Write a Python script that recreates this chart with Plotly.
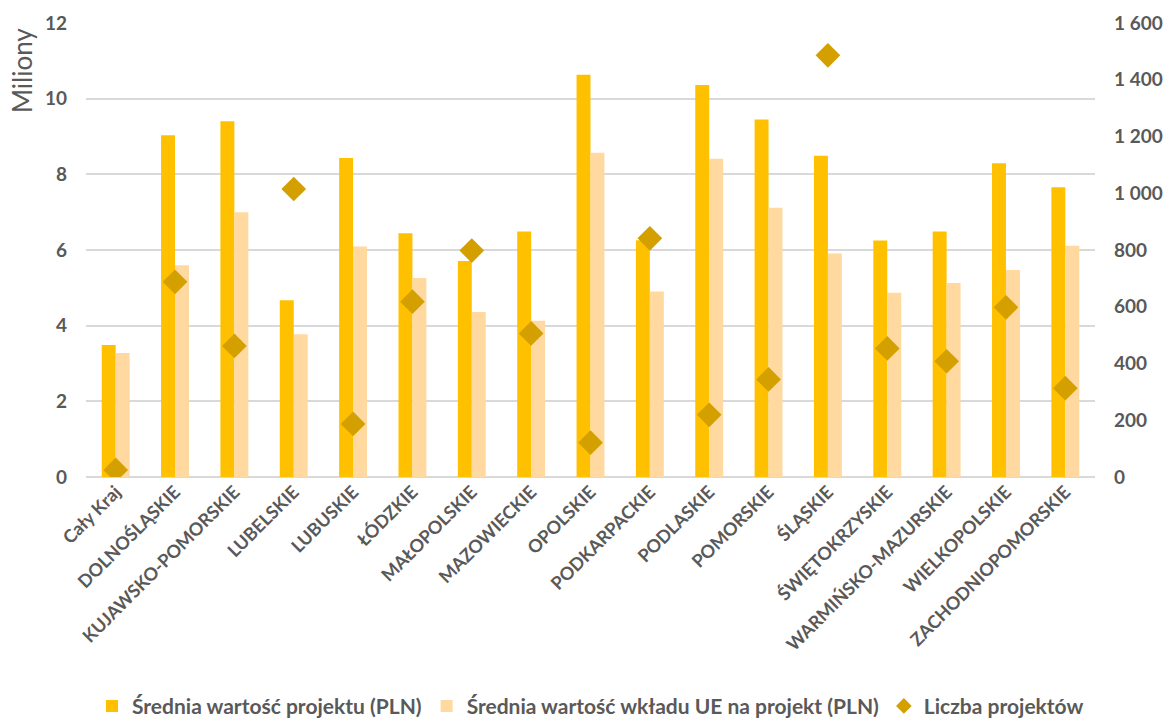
import plotly.graph_objects as go

categories = ["Cały Kraj", "DOLNOŚLĄSKIE", "KUJAWSKO-POMORSKIE", "LUBELSKIE", "LUBUSKIE",
              "ŁÓDZKIE", "MAŁOPOLSKIE", "MAZOWIECKIE", "OPOLSKIE", "PODKARPACKIE",
              "PODLASKIE", "POMORSKIE", "ŚLĄSKIE", "ŚWIĘTOKRZYSKIE", "WARMIŃSKO-MAZURSKIE",
              "WIELKOPOLSKIE", "ZACHODNIOPOMORSKIE"]
avg_project = [3.49, 9.03, 9.40, 4.67, 8.43, 6.44, 5.71, 6.49, 10.63, 6.26,
               10.36, 9.45, 8.49, 6.25, 6.49, 8.29, 7.66]
avg_eu = [3.28, 5.60, 7.00, 3.77, 6.09, 5.26, 4.36, 4.13, 8.57, 4.90,
          8.41, 7.12, 5.91, 4.87, 5.13, 5.47, 6.11]
n_projects = [25, 688, 462, 1015, 187, 618, 798, 506, 121, 841,
              219, 344, 1486, 453, 408, 598, 313]

left_ticks = [0, 2, 4, 6, 8, 10, 12]
right_ticks = [0, 200, 400, 600, 800, 1000, 1200, 1400, 1600]
right_labels = ["0", "200", "400", "600", "800", "1 000", "1 200", "1 400", "1 600"]

FONT = "Lato, Carlito, Calibri, sans-serif"
GRAY = "#595959"

fig = go.Figure()
fig.add_trace(go.Bar(x=categories, y=avg_project, name="Średnia wartość projektu (PLN)",
                     marker=dict(color="#FFC000", line=dict(width=0)), yaxis="y"))
fig.add_trace(go.Bar(x=categories, y=avg_eu, name="Średnia wartość wkładu UE na projekt (PLN)",
                     marker=dict(color="#FFD9A0", line=dict(width=0)), yaxis="y"))
fig.add_trace(go.Scatter(x=categories, y=n_projects, name="Liczba projektów", mode="markers",
                         marker=dict(symbol="diamond", size=19, color="#D4A000"), yaxis="y2"))

fig.update_layout(
    width=1166, height=722,
    paper_bgcolor="white", plot_bgcolor="white",
    margin=dict(l=86, r=71, t=23, b=245, autoexpand=False),
    barmode="group", bargap=0.53, bargroupgap=0,
    font=dict(family=FONT, color=GRAY, size=16),
    showlegend=True,
    legend=dict(orientation="h", x=0.5, xanchor="center", yref="paper", y=-0.505, yanchor="middle",
                font=dict(family=FONT, size=21, color=GRAY, weight="bold"),
                itemsizing="constant", traceorder="normal"),
    xaxis=dict(tickangle=-45, tickfont=dict(family=FONT, size=18, color=GRAY, weight="bold"),
               range=[-0.5, len(categories) - 0.5],
               showgrid=False, showline=False, ticks="", zeroline=False, automargin=False),
    yaxis=dict(range=[0, 12], tickvals=left_ticks, showgrid=True, gridcolor="#D9D9D9", gridwidth=1.5,
               zeroline=True, zerolinecolor="#D9D9D9", zerolinewidth=1.5, showline=False,
               tickfont=dict(family=FONT, size=19, color=GRAY, weight="bold"),
               ticklabelstandoff=18, automargin=False),
    yaxis2=dict(range=[0, 1600], tickvals=right_ticks, ticktext=right_labels, overlaying="y",
                side="right", showgrid=False, zeroline=False, showline=False,
                tickfont=dict(family=FONT, size=19, color=GRAY, weight="bold"),
                ticklabelstandoff=18, automargin=False),
    annotations=[dict(text="Miliony", xref="paper", yref="paper", x=0, y=0.894,
                      xanchor="center", yanchor="middle",
                      xshift=-64, textangle=-90, showarrow=False,
                      font=dict(family=FONT, size=26, color=GRAY))],
)

fig.write_html("out.html", config={"displayModeBar": False},
               post_script="document.body.style.margin='0';document.body.style.padding='0';")
